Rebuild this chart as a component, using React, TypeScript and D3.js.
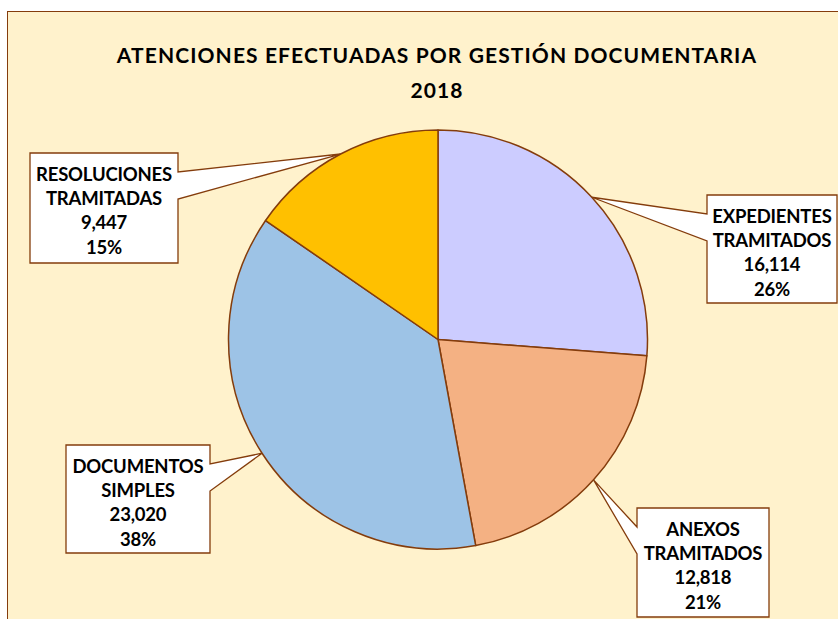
import React, { useEffect, useRef } from "react";
import * as d3 from "d3";

// datos del gráfico
const categories = ["EXPEDIENTES TRAMITADOS", "ANEXOS TRAMITADOS", "DOCUMENTOS SIMPLES", "RESOLUCIONES TRAMITADAS"];
const labelLines = [["EXPEDIENTES", "TRAMITADOS"], ["ANEXOS", "TRAMITADOS"], ["DOCUMENTOS", "SIMPLES"], ["RESOLUCIONES", "TRAMITADAS"]];
const values = [16114, 12818, 23020, 9447];
const percents = ["26%", "21%", "38%", "15%"];
const colors = ["#CCCCFF", "#F4B183", "#9DC3E6", "#FFC000"];
const titleLines = ["ATENCIONES EFECTUADAS POR GESTIÓN DOCUMENTARIA", "2018"];

// posición de las cajas de etiqueta (side = lado del puntero)
const boxes = [
    { x: 707, y: 195, w: 130, h: 108, side: "left" },
    { x: 637, y: 508, w: 132, h: 109, side: "left" },
    { x: 66, y: 445, w: 144, h: 108, side: "right" },
    { x: 30, y: 153, w: 148, h: 110, side: "right" },
];

const W = 838, H = 619;
const cx = 438, cy = 339.5, R = 209.5;
const brown = "#843C0C";
const font = "Lato, 'Open Sans', sans-serif";

const App = () => {
    const ref = useRef<SVGSVGElement>(null);

    useEffect(() => {
        const svg = d3.select(ref.current);
        svg.selectAll("*").remove();

        // fondo del gráfico
        svg.append("rect")
            .attr("x", 7.5).attr("y", 11.5)
            .attr("width", W + 20).attr("height", H + 20)
            .attr("fill", "#FFF2CC")
            .attr("stroke", brown)
            .attr("stroke-width", 1);

        svg.selectAll("text.title")
            .data(titleLines)
            .enter()
            .append("text")
            .attr("class", "title")
            .attr("x", 437)
            .attr("y", (d, i) => 63 + i * 35)
            .attr("text-anchor", "middle")
            .style("font-family", font)
            .style("font-weight", "bold")
            .style("font-size", "21px")
            .style("letter-spacing", "1.1px")
            .style("fill", "#000")
            .text(d => d);

        const pie = d3.pie<number>().value(d => d).sort(null);
        const arc = d3.arc<d3.PieArcDatum<number>>().innerRadius(0).outerRadius(R);
        const edge = d3.arc<d3.PieArcDatum<number>>().innerRadius(R).outerRadius(R);
        const arcs = pie(values);

        const g = svg.append("g").attr("transform", `translate(${cx}, ${cy})`);
        g.selectAll("path")
            .data(arcs)
            .enter()
            .append("path")
            .attr("d", arc)
            .attr("fill", (d, i) => colors[i])
            .attr("stroke", brown)
            .attr("stroke-width", 1.5)
            .attr("stroke-linejoin", "round");

        // cajas con puntero
        const fmt = d3.format(",");
        arcs.forEach((d, i) => {
            const b = boxes[i];
            const [tx0, ty0] = edge.centroid(d);
            const tx = tx0 + cx, ty = ty0 + cy;
            const p1 = b.y + 19, p2 = b.y + 46;
            let path;
            if (b.side === "right") {
                path = `M${b.x},${b.y}H${b.x + b.w}V${p1}L${tx},${ty}L${b.x + b.w},${p2}V${b.y + b.h}H${b.x}Z`;
            } else {
                path = `M${b.x},${b.y}H${b.x + b.w}V${b.y + b.h}H${b.x}V${p2}L${tx},${ty}L${b.x},${p1}Z`;
            }
            svg.append("path")
                .attr("d", path)
                .attr("fill", "#fff")
                .attr("stroke", brown)
                .attr("stroke-width", 1.3)
                .attr("stroke-linejoin", "miter");

            const lines = [...labelLines[i], fmt(values[i]), percents[i]];
            svg.selectAll(`text.lab${i}`)
                .data(lines)
                .enter()
                .append("text")
                .attr("class", `lab${i}`)
                .attr("x", b.x + b.w / 2)
                .attr("y", (t, j) => b.y + 28 + j * 24.2)
                .attr("text-anchor", "middle")
                .style("font-family", font)
                .style("font-weight", "bold")
                .style("font-size", "18.5px")
                .style("letter-spacing", "-0.2px")
                .style("fill", "#000")
                .text(t => t);
        });
    }, []);

    return (
        <div style={{ position: "absolute", left: 0, top: 0 }}>
            <svg ref={ref} width={W} height={H} style={{ display: "block", background: "#fff" }}></svg>
        </div>
    );
};

export default App;
